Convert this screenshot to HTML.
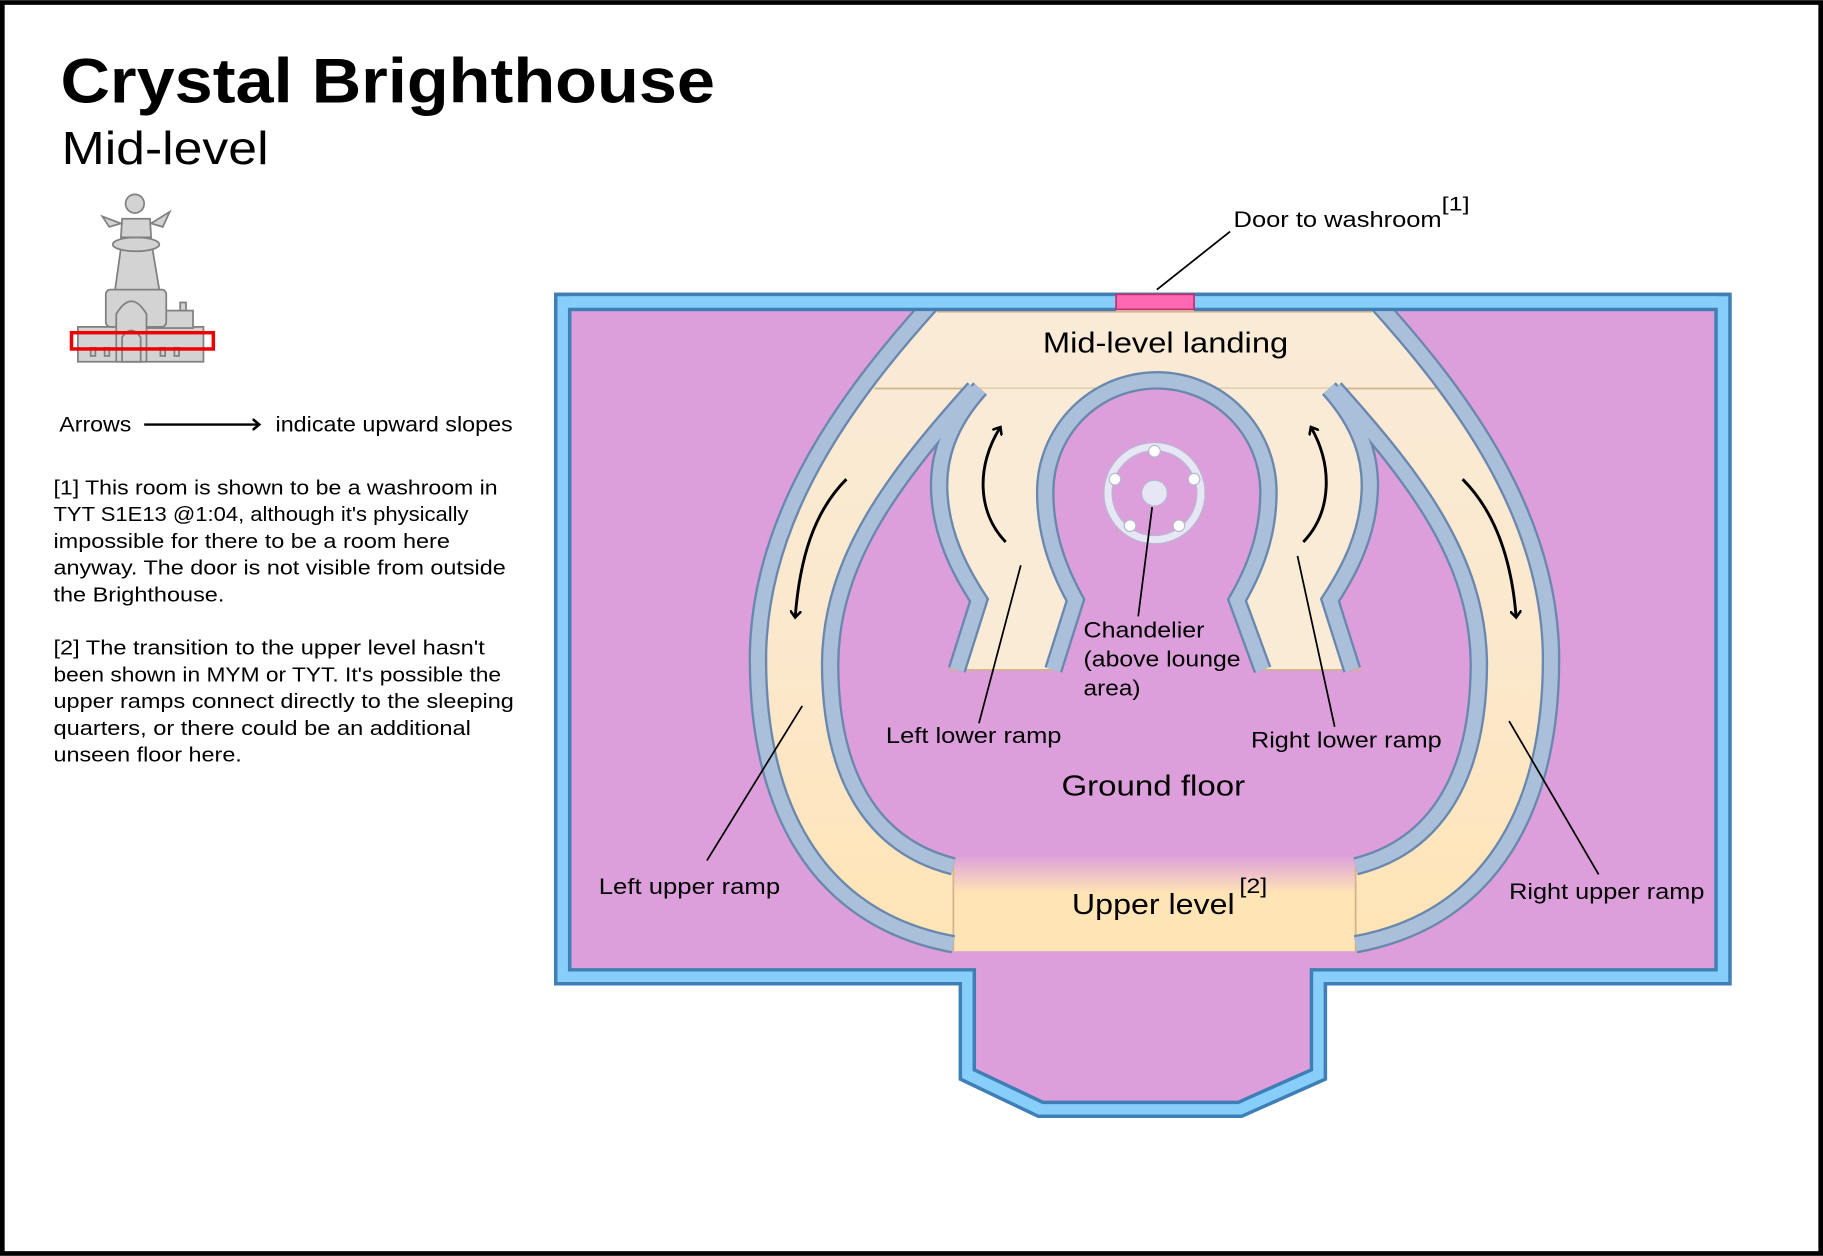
<!DOCTYPE html>
<html><head><meta charset="utf-8"><style>
html,body{margin:0;padding:0;background:#fff}
svg{display:block}
text{font-family:"Liberation Sans",sans-serif;fill:#000}
</style></head><body>
<svg width="1823" height="1256" viewBox="0 0 1568 1080" xmlns="http://www.w3.org/2000/svg">
<defs>
<linearGradient id="rg" x1="0" y1="266" x2="0" y2="812" gradientUnits="userSpaceOnUse">
<stop offset="0" stop-color="#faebd7"/><stop offset="0.55" stop-color="#fbe8cc"/><stop offset="1" stop-color="#ffe4b5"/></linearGradient>
<linearGradient id="ug" x1="0" y1="735" x2="0" y2="818" gradientUnits="userSpaceOnUse">
<stop offset="0" stop-color="#dc9fdc"/><stop offset="0.4" stop-color="#ffe4b5"/><stop offset="1" stop-color="#ffe4b5"/></linearGradient>
<marker id="ah" markerWidth="10" markerHeight="10" refX="5" refY="5" orient="auto" markerUnits="userSpaceOnUse"><path d="M0,0 L6,5 L0,10" fill="none" stroke="#000" stroke-width="2.2"/></marker>
</defs>
<rect x="2" y="2" width="1564" height="1076" fill="#fff" stroke="#000" stroke-width="4"/>

<g lengthAdjust="spacingAndGlyphs">
<text x="52" y="88" font-size="54" font-weight="bold" textLength="563" lengthAdjust="spacingAndGlyphs">Crystal Brighthouse</text>
<text x="53" y="141" font-size="40" textLength="178" lengthAdjust="spacingAndGlyphs">Mid-level</text>
</g>

<!-- building icon -->
<g fill="#d3d3d3" stroke="#808080" stroke-width="1.5">
<rect x="67" y="281" width="108" height="30"/>
<rect x="127" y="267" width="39" height="15"/>
<rect x="155" y="260" width="5" height="7"/>
<rect x="91" y="249" width="52" height="32" rx="4"/>
<path d="M99,249 L104,213 L131,213 L137,249 Z"/>
<ellipse cx="117" cy="210" rx="20" ry="6"/>
<path d="M104,204 L105,188 L129,188 L130,204 Z"/>
<path d="M104,192 L88,186 L94,195 Z"/>
<path d="M130,192 L146,182 L140,195 Z"/>
<circle cx="116" cy="175" r="8"/>
<path d="M100,311 L100,270 Q113,248 126,270 L126,311 Z"/>
<path d="M105,311 L105,290 Q113,278 121,290 L121,311 Z"/>
<rect x="78" y="299" width="4" height="7"/><rect x="90" y="299" width="4" height="7"/>
<rect x="138" y="299" width="4" height="7"/><rect x="150" y="299" width="4" height="7"/>
</g>
<rect x="61.5" y="286" width="122" height="14" fill="none" stroke="#e00" stroke-width="3"/>

<text x="51" y="371" font-size="18" textLength="62" lengthAdjust="spacingAndGlyphs">Arrows</text>
<line x1="124" y1="365" x2="222" y2="365" stroke="#000" stroke-width="2" marker-end="url(#ah)"/>
<text x="237" y="371" font-size="18" textLength="204" lengthAdjust="spacingAndGlyphs">indicate upward slopes</text>
<g font-size="17.5">
<text x="46" y="425" textLength="382" lengthAdjust="spacingAndGlyphs">[1] This room is shown to be a washroom in</text>
<text x="46" y="448" textLength="357" lengthAdjust="spacingAndGlyphs">TYT S1E13 @1:04, although it's physically</text>
<text x="46" y="471" textLength="341" lengthAdjust="spacingAndGlyphs">impossible for there to be a room here</text>
<text x="46" y="494" textLength="389" lengthAdjust="spacingAndGlyphs">anyway. The door is not visible from outside</text>
<text x="46" y="517" textLength="147" lengthAdjust="spacingAndGlyphs">the Brighthouse.</text>
<text x="46" y="563" textLength="371" lengthAdjust="spacingAndGlyphs">[2] The transition to the upper level hasn't</text>
<text x="46" y="586" textLength="385" lengthAdjust="spacingAndGlyphs">been shown in MYM or TYT. It's possible the</text>
<text x="46" y="609" textLength="396" lengthAdjust="spacingAndGlyphs">upper ramps connect directly to the sleeping</text>
<text x="46" y="632" textLength="359" lengthAdjust="spacingAndGlyphs">quarters, or there could be an additional</text>
<text x="46" y="655" textLength="162" lengthAdjust="spacingAndGlyphs">unseen floor here.</text>
</g>

<!-- building outline -->
<path d="M478,253 L1488,253 L1488,846 L1140,846 L1140,928 L1068,960 L893,960 L826,928 L826,846 L478,846 Z" fill="#87cefa" stroke="#3f7fb5" stroke-width="3"/>
<path d="M490,266 L1476,266 L1476,834 L1128,834 L1128,920 L1065,948 L897,948 L838,920 L838,834 L490,834 Z" fill="#dc9fdc" stroke="#3f7fb5" stroke-width="3"/>

<!-- ramps fill -->
<path d="M800,266 L1186,266 C1256,340 1331,440 1334,560 C1336,690 1286,790 1166,812 L820,812 C700,790 650,690 652,560 C655,440 730,340 800,266 Z" fill="url(#rg)"/>
<line x1="806" y1="268" x2="1180" y2="268" stroke="#d2b48c" stroke-width="1.5"/>
<path d="M838,334 C770,410 715,480 714,570 C714,680 760,730 820,745 L1166,745 C1226,730 1272,680 1272,570 C1271,480 1216,410 1148,334 Z" fill="#dc9fdc"/>
<line x1="752" y1="334" x2="1235" y2="334" stroke="#d2b48c" stroke-width="1.5"/>
<rect x="820" y="735" width="346" height="83" fill="url(#ug)"/>
<line x1="820" y1="745" x2="820" y2="818" stroke="#d2b48c" stroke-width="1.5"/>
<line x1="1166" y1="745" x2="1166" y2="818" stroke="#d2b48c" stroke-width="1.5"/>

<!-- lower ramps -->
<path d="M843,334 C815,365 806,395 808,425 C810,460 825,490 842,516 L823,576 L1000,576 L1000,334 Z" fill="#faebd7"/>
<path d="M1143,334 C1171,365 1180,395 1178,425 C1176,460 1161,490 1144,516 L1163,576 L990,576 L990,334 Z" fill="#faebd7"/>
<path d="M906,580 L925,516 C905,480 899,450 899,423 A96,96 0 0 1 1091,423 C1091,450 1085,480 1064,516 L1086,580 Z" fill="#dc9fdc"/>
<line x1="816" y1="576" x2="906" y2="576" stroke="#d2b48c" stroke-width="1.5"/>
<line x1="1086" y1="576" x2="1171" y2="576" stroke="#d2b48c" stroke-width="1.5"/>

<!-- walls -->
<g fill="none" stroke-linejoin="miter">
<g stroke="#6a88ad" stroke-width="16">
<path d="M800,262 C730,340 655,440 652,560 C650,690 700,790 820,812"/>
<path d="M838,334 C770,410 715,480 714,570 C714,680 760,730 820,745"/>
<path d="M1186,262 C1256,340 1331,440 1334,560 C1336,690 1286,790 1166,812"/>
<path d="M1148,334 C1216,410 1271,480 1272,570 C1272,680 1226,730 1166,745"/>
<path d="M843,334 C815,365 806,395 808,425 C810,460 825,490 842,516 L823,576"/>
<path d="M1143,334 C1171,365 1180,395 1178,425 C1176,460 1161,490 1144,516 L1163,576"/>
<path d="M906,576 L925,516 C905,480 899,450 899,423 A96,96 0 0 1 1091,423 C1091,450 1085,480 1064,516 L1086,576"/>
</g>
<g stroke="#aabfd9" stroke-width="12">
<path d="M800,262 C730,340 655,440 652,560 C650,690 700,790 820,812"/>
<path d="M838,334 C770,410 715,480 714,570 C714,680 760,730 820,745"/>
<path d="M1186,262 C1256,340 1331,440 1334,560 C1336,690 1286,790 1166,812"/>
<path d="M1148,334 C1216,410 1271,480 1272,570 C1272,680 1226,730 1166,745"/>
<path d="M843,334 C815,365 806,395 808,425 C810,460 825,490 842,516 L823,576"/>
<path d="M1143,334 C1171,365 1180,395 1178,425 C1176,460 1161,490 1144,516 L1163,576"/>
<path d="M906,576 L925,516 C905,480 899,450 899,423 A96,96 0 0 1 1091,423 C1091,450 1085,480 1064,516 L1086,576"/>
</g>
</g>
<!-- top border over walls -->
<rect x="490" y="253" width="470" height="12" fill="#87cefa"/>
<rect x="1027" y="253" width="449" height="12" fill="#87cefa"/>
<line x1="478" y1="253" x2="1488" y2="253" stroke="#3f7fb5" stroke-width="3"/>
<line x1="490" y1="266" x2="960" y2="266" stroke="#3f7fb5" stroke-width="3"/>
<line x1="1027" y1="266" x2="1476" y2="266" stroke="#3f7fb5" stroke-width="3"/>
<rect x="960" y="253" width="67" height="13" fill="#ff69b4" stroke="#c0306e" stroke-width="1.5"/>

<!-- chandelier -->
<circle cx="993" cy="424" r="40" fill="none" stroke="#e6e6f5" stroke-width="7"/>
<circle cx="993" cy="424" r="43.5" fill="none" stroke="#b8b8d0" stroke-width="1"/>
<circle cx="993" cy="424" r="36.5" fill="none" stroke="#b8b8d0" stroke-width="1"/>
<circle cx="993" cy="424" r="11" fill="#e6e6f5" stroke="#b8b8d0"/>
<g fill="#fff" stroke="#b8b8d0">
<circle cx="993" cy="388" r="5"/><circle cx="959" cy="412" r="5"/><circle cx="1027" cy="412" r="5"/>
<circle cx="972" cy="452" r="5"/><circle cx="1014" cy="452" r="5"/>
</g>

<!-- arrows -->
<g fill="none" stroke="#000" stroke-width="2.5">
<path d="M865,466 C840,440 840,400 860,368" marker-end="url(#ah)"/>
<path d="M1121,466 C1146,440 1146,400 1128,368" marker-end="url(#ah)"/>
<path d="M728,412 C700,440 688,480 684,530" marker-end="url(#ah)"/>
<path d="M1258,412 C1286,440 1300,480 1304,530" marker-end="url(#ah)"/>
</g>

<!-- leader lines -->
<g stroke="#000" stroke-width="1.5">
<line x1="995" y1="249" x2="1058" y2="199"/>
<line x1="991" y1="436" x2="979" y2="530"/>
<line x1="878" y1="486" x2="842" y2="622"/>
<line x1="1116" y1="478" x2="1148" y2="625"/>
<line x1="690" y1="607" x2="608" y2="740"/>
<line x1="1298" y1="620" x2="1375" y2="752"/>
</g>

<g font-size="19">
<text x="1061" y="195" textLength="179" lengthAdjust="spacingAndGlyphs">Door to washroom</text>
<text x="1240" y="181" font-size="17" textLength="24" lengthAdjust="spacingAndGlyphs">[1]</text>
<text x="932" y="548" textLength="104" lengthAdjust="spacingAndGlyphs">Chandelier</text>
<text x="932" y="573" textLength="135" lengthAdjust="spacingAndGlyphs">(above lounge</text>
<text x="932" y="598" textLength="49" lengthAdjust="spacingAndGlyphs">area)</text>
<text x="762" y="639" textLength="151" lengthAdjust="spacingAndGlyphs">Left lower ramp</text>
<text x="1076" y="643" textLength="164" lengthAdjust="spacingAndGlyphs">Right lower ramp</text>
<text x="515" y="769" textLength="156" lengthAdjust="spacingAndGlyphs">Left upper ramp</text>
<text x="1298" y="773" textLength="168" lengthAdjust="spacingAndGlyphs">Right upper ramp</text>
</g>
<text x="897" y="303" font-size="25" textLength="211" lengthAdjust="spacingAndGlyphs">Mid-level landing</text>
<text x="913" y="684" font-size="25" textLength="158" lengthAdjust="spacingAndGlyphs">Ground floor</text>
<text x="922" y="786" font-size="25" textLength="140" lengthAdjust="spacingAndGlyphs">Upper level</text>
<text x="1066" y="768" font-size="18" textLength="24" lengthAdjust="spacingAndGlyphs">[2]</text>
</svg>
</body></html>
